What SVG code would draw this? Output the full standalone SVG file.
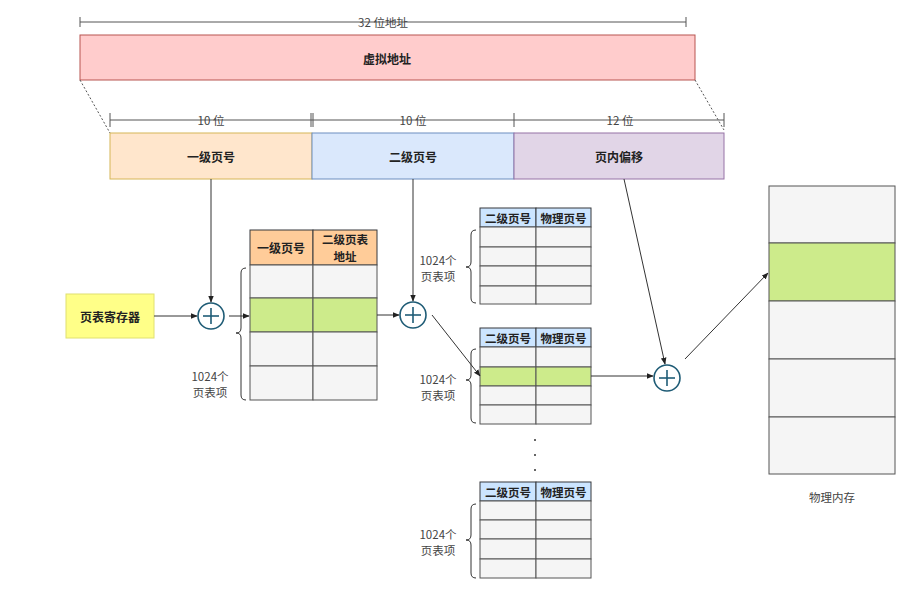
<svg xmlns="http://www.w3.org/2000/svg" width="906" height="596" viewBox="0 0 906 596">
<style>
text{font-family:"Noto Sans CJK SC","Liberation Sans",sans-serif;fill:#222;text-anchor:middle;dominant-baseline:central}
.b{font-weight:bold;font-size:12px}
.s{font-size:11.5px;fill:#444}
.dim{stroke:#555;stroke-width:1;fill:none}
.cell{fill:#f5f5f5;stroke:#555;stroke-width:1}
.g{fill:#cdeb8b;stroke:#555;stroke-width:1}
.hb{fill:#cce5ff;stroke:#36393d;stroke-width:1}
.ho{fill:#ffcc99;stroke:#36393d;stroke-width:1}
.ln{stroke:#333;stroke-width:1;fill:none}
.br{stroke:#333;stroke-width:1;fill:none}
.sum{fill:#fff;stroke:#1f5c76;stroke-width:1.6}
.sumx{stroke:#1f5c76;stroke-width:1.6}
</style>
<defs>
<marker id="ah" viewBox="0 0 10 10" refX="9" refY="5" markerWidth="7" markerHeight="7" orient="auto" markerUnits="userSpaceOnUse"><path d="M0,1 L10,5 L0,9 Z" fill="#222"/></marker>
</defs>
<rect width="906" height="596" fill="#fff"/>

<g id="dim32">
<line class="dim" x1="80" y1="22" x2="686" y2="22"/>
<line class="dim" x1="80" y1="17" x2="80" y2="27"/>
<line class="dim" x1="686" y1="17" x2="686" y2="27"/>
<text x="383" y="22" class="s">32 位地址</text>
</g>
<g id="vaddr">
<rect x="80" y="35" width="615" height="45" fill="#ffcccc" stroke="#b85450"/>
<text x="387" y="58" class="b">虚拟地址</text>
</g>
<g id="dims">
<line class="dim" x1="110" y1="120" x2="724" y2="120"/>
<line class="dim" x1="110" y1="113" x2="110" y2="127"/>
<line class="dim" x1="311" y1="113" x2="311" y2="127"/>
<line class="dim" x1="313" y1="113" x2="313" y2="127"/>
<line class="dim" x1="514" y1="113" x2="514" y2="127"/>
<line class="dim" x1="724" y1="113" x2="724" y2="127"/>
<text x="211" y="120" class="s">10 位</text>
<text x="413" y="120" class="s">10 位</text>
<text x="620" y="120" class="s">12 位</text>
</g>
<g id="f1"><rect x="110" y="133" width="202" height="46" fill="#ffe6cc" stroke="#d6b656"/><text x="211" y="156" class="b">一级页号</text></g>
<g id="f2"><rect x="312" y="133" width="202" height="46" fill="#dae8fc" stroke="#6c8ebf"/><text x="413" y="156" class="b">二级页号</text></g>
<g id="f3"><rect x="514" y="133" width="210" height="46" fill="#e1d5e7" stroke="#9673a6"/><text x="619" y="156" class="b">页内偏移</text></g>

<g id="reg"><rect x="66" y="294" width="88" height="44" fill="#ffff88" stroke="#e0e070"/><text x="110" y="316" class="b">页表寄存器</text></g>

<g id="sum1"><circle class="sum" cx="211" cy="316" r="13"/><line class="sumx" x1="203" y1="316" x2="219" y2="316"/><line class="sumx" x1="211" y1="308" x2="211" y2="324"/></g>
<g id="sum2"><circle class="sum" cx="413" cy="315" r="13"/><line class="sumx" x1="405" y1="315" x2="421" y2="315"/><line class="sumx" x1="413" y1="307" x2="413" y2="323"/></g>
<g id="sum3"><circle class="sum" cx="667" cy="378" r="13"/><line class="sumx" x1="659" y1="378" x2="675" y2="378"/><line class="sumx" x1="667" y1="370" x2="667" y2="386"/></g>

<g id="table1">
<rect class="ho" x="250" y="230" width="63" height="35"/><rect class="ho" x="313" y="230" width="64" height="35"/>
<text x="281" y="247" class="b">一级页号</text>
<text x="345" y="239" class="b" style="font-size:11.5px">二级页表</text><text x="345" y="256" class="b" style="font-size:11.5px">地址</text>
<rect class="cell" x="250" y="265" width="63" height="33"/><rect class="cell" x="313" y="265" width="64" height="33"/>
<rect class="g" x="250" y="298" width="63" height="34"/><rect class="g" x="313" y="298" width="64" height="34"/>
<rect class="cell" x="250" y="332" width="63" height="34"/><rect class="cell" x="313" y="332" width="64" height="34"/>
<rect class="cell" x="250" y="366" width="63" height="34"/><rect class="cell" x="313" y="366" width="64" height="34"/>
<path class="br" d="M246,268 Q241,268 241,273 L241,328 Q241,333 236,333 Q241,333 241,338 L241,395 Q241,400 246,400"/>
<text x="210" y="376" class="s">1024个</text><text x="210" y="392" class="s">页表项</text>
</g>

<g id="table2">
<rect class="hb" x="480" y="208" width="56" height="19"/><rect class="hb" x="536" y="208" width="55" height="19"/>
<text x="508" y="217.5" class="b" style="font-size:11.5px">二级页号</text><text x="563.5" y="217.5" class="b" style="font-size:11.5px">物理页号</text>
<rect class="cell" x="480" y="227" width="56" height="20"/><rect class="cell" x="536" y="227" width="55" height="20"/>
<rect class="cell" x="480" y="247" width="56" height="19"/><rect class="cell" x="536" y="247" width="55" height="19"/>
<rect class="cell" x="480" y="266" width="56" height="20"/><rect class="cell" x="536" y="266" width="55" height="20"/>
<rect class="cell" x="480" y="286" width="56" height="18"/><rect class="cell" x="536" y="286" width="55" height="18"/>
<path class="br" d="M476,230 Q471,230 471,235 L471,262 Q471,267 466,267 Q471,267 471,272 L471,298 Q471,303 476,303"/>
<text x="438" y="260" class="s">1024个</text><text x="438" y="276" class="s">页表项</text>
</g>

<g id="table3">
<rect class="hb" x="480" y="328" width="56" height="19"/><rect class="hb" x="536" y="328" width="55" height="19"/>
<text x="508" y="337.5" class="b" style="font-size:11.5px">二级页号</text><text x="563.5" y="337.5" class="b" style="font-size:11.5px">物理页号</text>
<rect class="cell" x="480" y="347" width="56" height="20"/><rect class="cell" x="536" y="347" width="55" height="20"/>
<rect class="g" x="480" y="367" width="56" height="19"/><rect class="g" x="536" y="367" width="55" height="19"/>
<rect class="cell" x="480" y="386" width="56" height="19"/><rect class="cell" x="536" y="386" width="55" height="19"/>
<rect class="cell" x="480" y="405" width="56" height="19"/><rect class="cell" x="536" y="405" width="55" height="19"/>
<path class="br" d="M476,349 Q471,349 471,354 L471,375 Q471,380 466,380 Q471,380 471,385 L471,418 Q471,423 476,423"/>
<text x="438" y="379" class="s">1024个</text><text x="438" y="395" class="s">页表项</text>
</g>

<g id="dots"><circle cx="535" cy="440" r="1" fill="#333"/><circle cx="535" cy="455" r="1" fill="#333"/><circle cx="535" cy="470" r="1" fill="#333"/></g>

<g id="table4">
<rect class="hb" x="480" y="482" width="56" height="19"/><rect class="hb" x="536" y="482" width="55" height="19"/>
<text x="508" y="491.5" class="b" style="font-size:11.5px">二级页号</text><text x="563.5" y="491.5" class="b" style="font-size:11.5px">物理页号</text>
<rect class="cell" x="480" y="501" width="56" height="19"/><rect class="cell" x="536" y="501" width="55" height="19"/>
<rect class="cell" x="480" y="520" width="56" height="19"/><rect class="cell" x="536" y="520" width="55" height="19"/>
<rect class="cell" x="480" y="539" width="56" height="20"/><rect class="cell" x="536" y="539" width="55" height="20"/>
<rect class="cell" x="480" y="559" width="56" height="19"/><rect class="cell" x="536" y="559" width="55" height="19"/>
<path class="br" d="M476,504 Q471,504 471,509 L471,535 Q471,540 466,540 Q471,540 471,545 L471,573 Q471,578 476,578"/>
<text x="438" y="534" class="s">1024个</text><text x="438" y="550" class="s">页表项</text>
</g>

<g id="mem">
<rect class="cell" x="769" y="186" width="126" height="57"/>
<rect class="g" x="769" y="243" width="126" height="58"/>
<rect class="cell" x="769" y="301" width="126" height="58"/>
<rect class="cell" x="769" y="359" width="126" height="58"/>
<rect class="cell" x="769" y="417" width="126" height="57"/>
<text x="832" y="497" class="s">物理内存</text>
</g>

<g id="connectors">
<line x1="80" y1="80" x2="110" y2="133" stroke="#555" stroke-dasharray="2 2"/>
<line x1="695" y1="80" x2="724" y2="130" stroke="#555" stroke-dasharray="2 2"/>
<line class="ln" x1="211" y1="179" x2="211" y2="302" marker-end="url(#ah)"/>
<line class="ln" x1="154" y1="316" x2="197" y2="316" marker-end="url(#ah)"/>
<line class="ln" x1="229" y1="316" x2="249" y2="316" marker-end="url(#ah)"/>
<line class="ln" x1="377" y1="315" x2="399" y2="315" marker-end="url(#ah)"/>
<line class="ln" x1="413" y1="179" x2="413" y2="301" marker-end="url(#ah)"/>
<line class="ln" x1="432" y1="315" x2="480" y2="376" marker-end="url(#ah)"/>
<line class="ln" x1="591" y1="376" x2="653" y2="376" marker-end="url(#ah)"/>
<line class="ln" x1="624" y1="179" x2="665" y2="364" marker-end="url(#ah)"/>
<line class="ln" x1="685" y1="359" x2="768" y2="273" marker-end="url(#ah)"/>
</g>
</svg>
